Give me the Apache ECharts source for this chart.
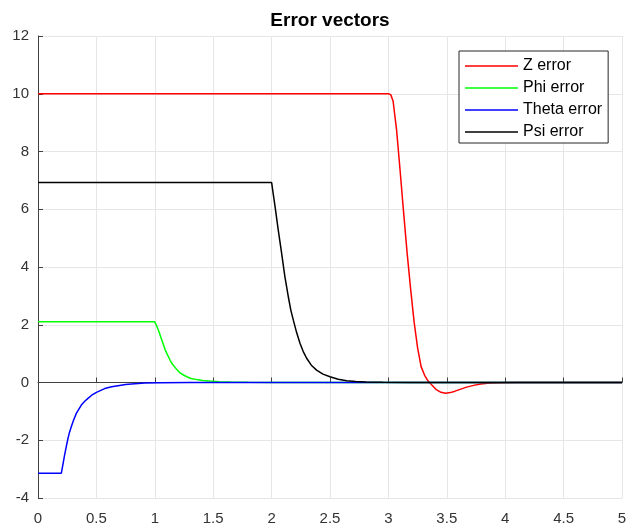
<!DOCTYPE html>
<html>
<head>
<meta charset="utf-8">
<script src="https://cdn.jsdelivr.net/npm/echarts@6/dist/echarts.min.js"></script>
<style>html,body{margin:0;padding:0;background:#fff}#c{width:630px;height:527px}</style>
</head>
<body>
<div id="c"></div>
<script>
var titleText = 'Error vectors';
var seriesNames = ['Z error', 'Phi error', 'Theta error', 'Psi error'];
var xTicks = [0, 0.5, 1, 1.5, 2, 2.5, 3, 3.5, 4, 4.5, 5];
var yTicks = [-4, -2, 0, 2, 4, 6, 8, 10, 12];

var tZ = [0, 3.0, 3.02, 3.04, 3.07, 3.1, 3.13, 3.16, 3.19, 3.22, 3.25, 3.28, 3.31, 3.34, 3.37, 3.41, 3.45, 3.49, 3.53, 3.57, 3.62, 3.67, 3.73, 3.79, 3.87, 3.95, 4.1, 5];
var vZ = [10, 10, 9.97, 9.75, 8.75, 7.35, 5.9, 4.5, 3.25, 2.1, 1.2, 0.55, 0.25, 0.05, -0.08, -0.25, -0.34, -0.37, -0.35, -0.3, -0.23, -0.16, -0.1, -0.05, -0.02, -0.01, 0, 0];

var tPhi = [0, 1.0, 1.015, 1.031, 1.06, 1.088, 1.11, 1.131, 1.15, 1.174, 1.195, 1.217, 1.245, 1.274, 1.31, 1.36, 1.41, 1.47, 1.55, 1.65, 1.8, 2.0, 5];
var vPhi = [2.1, 2.1, 1.97, 1.81, 1.47, 1.14, 0.95, 0.77, 0.64, 0.52, 0.42, 0.33, 0.26, 0.2, 0.14, 0.1, 0.07, 0.05, 0.03, 0.015, 0.005, 0, 0];

var tTheta = [0, 0.2, 0.214, 0.228, 0.243, 0.257, 0.27, 0.285, 0.305, 0.328, 0.35, 0.371, 0.4, 0.428, 0.46, 0.5, 0.571, 0.63, 0.685, 0.75, 0.8, 0.914, 1.05, 1.3, 5];
var vTheta = [-3.14, -3.14, -2.83, -2.51, -2.2, -1.93, -1.72, -1.53, -1.3, -1.07, -0.92, -0.78, -0.65, -0.55, -0.44, -0.34, -0.21, -0.15, -0.11, -0.07, -0.05, -0.02, -0.008, 0, 0];

var tPsi = [0, 2.0, 2.015, 2.03, 2.057, 2.086, 2.114, 2.143, 2.165, 2.186, 2.215, 2.243, 2.27, 2.3, 2.34, 2.385, 2.44, 2.5, 2.57, 2.643, 2.72, 2.81, 2.95, 3.2, 5];
var vPsi = [6.93, 6.93, 6.5, 6.08, 5.28, 4.47, 3.66, 2.97, 2.5, 2.16, 1.72, 1.36, 1.08, 0.84, 0.6, 0.43, 0.29, 0.2, 0.11, 0.06, 0.035, 0.02, 0.008, 0, 0];

var colors = ['#ff0000', '#00ff00', '#0000ff', '#000000'];

function pairs(t, v) { return t.map(function (x, i) { return [x, v[i]]; }); }
var allData = [pairs(tZ, vZ), pairs(tPhi, vPhi), pairs(tTheta, vTheta), pairs(tPsi, vPsi)];

var font = 'Liberation Sans, Arial, Helvetica, sans-serif';
var chart = echarts.init(document.getElementById('c'), null, {renderer: 'canvas'});
chart.setOption({
  animation: false,
  backgroundColor: '#ffffff',
  title: {
    text: titleText, left: 325, top: 6, textAlign: 'center',
    textStyle: {fontFamily: font, fontSize: 19, fontWeight: 'bold', color: '#000'}
  },
  legend: {
    orient: 'vertical', left: 459, top: 51, padding: [7, 6, 3, 6],
    icon: 'rect', itemWidth: 53, itemHeight: 1.4, itemGap: 6,
    backgroundColor: '#fff', borderColor: '#262626', borderWidth: 1,
    data: seriesNames,
    textStyle: {fontFamily: font, fontSize: 16, lineHeight: 16, color: '#000'}
  },
  grid: {left: 38, right: 8, top: 36, bottom: 29, containLabel: false},
  xAxis: {
    type: 'value', min: xTicks[0], max: xTicks[xTicks.length - 1], interval: 0.5,
    axisLine: {lineStyle: {color: '#404040', width: 1}},
    axisTick: {inside: true, length: 5, lineStyle: {color: '#404040'}},
    axisLabel: {fontFamily: font, fontSize: 15, color: '#333', margin: 13},
    splitLine: {show: true, lineStyle: {color: '#e6e6e6', width: 1}}
  },
  yAxis: {
    type: 'value', min: yTicks[0], max: yTicks[yTicks.length - 1], interval: 2,
    axisLine: {show: true, lineStyle: {color: '#404040', width: 1}},
    axisTick: {show: true, inside: true, length: 5, lineStyle: {color: '#404040'}},
    axisLabel: {fontFamily: font, fontSize: 15, color: '#333', margin: 9},
    splitLine: {show: true, lineStyle: {color: '#e6e6e6', width: 1}}
  },
  series: seriesNames.map(function (n, i) {
    return {
      name: n, type: 'line', data: allData[i], symbol: 'none', showSymbol: false,
      color: colors[i], lineStyle: {color: colors[i], width: 1.5}
    };
  })
});
</script>
</body>
</html>
